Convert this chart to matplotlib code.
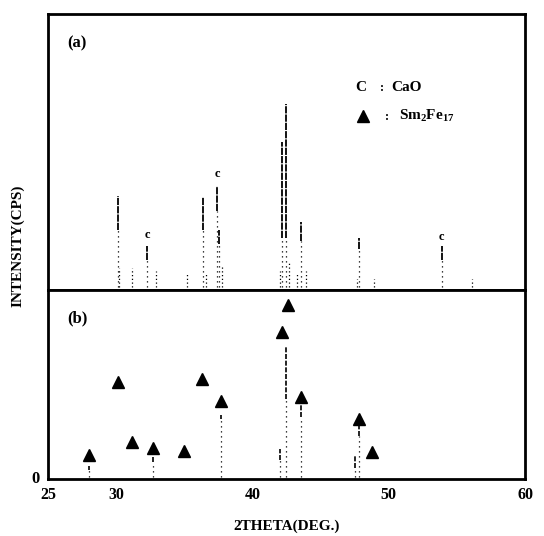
import matplotlib
matplotlib.use("Agg")
import matplotlib.pyplot as plt

plt.rcParams["font.family"] = ["Liberation Serif", "DejaVu Serif"]
plt.rcParams["font.weight"] = "bold"
plt.rcParams["mathtext.fontset"] = "custom"
plt.rcParams["mathtext.rm"] = "Liberation Serif:bold"
plt.rcParams["mathtext.default"] = "rm"

# (a) peaks: 2theta, top intensity, lower end of the solid part
a_pos = [30.1, 32.3, 36.4, 37.4, 37.55, 42.2, 42.5, 43.6, 47.8, 53.9]
a_top = [33.5, 15, 33, 37, 21, 53, 67, 24, 18, 15]
a_solid = [21, 10, 21, 28, 16, 18, 18, 17, 14, 10]
# (a) small specks above the baseline
a_minor_pos = [30.2, 31.2, 32.9, 35.2, 36.6, 37.8, 42.0, 42.7, 43.3, 43.9, 47.7, 48.9, 56.1]
a_minor_h = [7, 7, 6, 5, 5, 8, 6, 9, 5, 6, 3, 3, 3]
# CaO marks in (a)
cao_pos = [32.3, 37.4, 53.9]
cao_h = [19, 41.5, 18.5]

# (b) peaks
b_pos = [42.5, 42.0, 43.6, 47.8, 47.5, 37.7, 28.0, 32.7]
b_top = [70, 15, 39, 28, 12, 33, 6, 11]
b_solid = [42, 9, 32, 22, 5, 31, 4, 8]
# Sm2Fe17 triangles in (b)
tri_pos = [28.0, 30.1, 31.2, 32.7, 35.0, 36.3, 37.7, 42.2, 42.6, 43.6, 47.8, 48.8]
tri_h = [11.6, 50.8, 19, 15.3, 13.8, 52.4, 40.7, 77.8, 92, 42.9, 31.2, 13.2]

xticks = [25, 30, 40, 50, 60]

W, H = 544, 536
fig = plt.figure(figsize=(W / 100, H / 100), dpi=100)
ax1 = fig.add_axes([48 / W, 1 - 290 / H, 477 / W, 276 / H])
ax2 = fig.add_axes([48 / W, 1 - 479 / H, 477 / W, 189 / H])

for ax in (ax1, ax2):
    ax.set_xlim(25, 60)
    ax.set_ylim(-1, 100)
    for sp in ax.spines.values():
        sp.set_linewidth(2.0)
    ax.tick_params(length=0)

# panel (a)
ax1.vlines(a_pos, 0, a_solid, colors="k", lw=0.9, linestyles=(0, (1, 3)))
ax1.vlines(a_pos, a_solid, a_top, colors="k", lw=1.3, linestyles=(0, (4, 0.6)))
ax1.vlines(a_minor_pos, 0, a_minor_h, colors="k", lw=0.9, linestyles=(0, (1, 2)))
for x, h in zip(cao_pos, cao_h):
    ax1.text(x, h, "c", ha="center", va="center", fontsize=9, fontweight="bold")
ax1.set_xticks([])
ax1.set_yticks([])
ax1.text(0.04, 0.88, "(a)", transform=ax1.transAxes, fontsize=12, fontweight="bold")
ax1.text(0.645, 0.72, "C", transform=ax1.transAxes, fontsize=11, fontweight="bold")
ax1.text(0.695, 0.72, ":", transform=ax1.transAxes, fontsize=9, fontweight="bold")
ax1.text(0.72, 0.72, "CaO", transform=ax1.transAxes, fontsize=11, fontweight="bold")
ax1.plot([0.661], [0.63], marker="^", ms=9, color="k", transform=ax1.transAxes)
ax1.text(0.707, 0.615, ":", transform=ax1.transAxes, fontsize=9, fontweight="bold")
ax1.text(0.735, 0.615, "Sm$_2$Fe$_{17}$", transform=ax1.transAxes, fontsize=11)

# panel (b)
ax2.vlines(b_pos, 0, b_solid, colors="k", lw=0.9, linestyles=(0, (1, 3)))
ax2.vlines(b_pos, b_solid, b_top, colors="k", lw=1.2, linestyles=(0, (3, 1)))
ax2.plot(tri_pos, tri_h, linestyle="none", marker="^", ms=8, color="k")
ax2.text(0.04, 0.83, "(b)", transform=ax2.transAxes, fontsize=12, fontweight="bold")
ax2.set_yticks([0])
ax2.set_yticklabels(["0"], fontsize=12, fontweight="bold")
ax2.set_xticks(xticks)
ax2.set_xticklabels([str(t) for t in xticks], fontsize=11.5, fontweight="bold")
ax2.tick_params(axis="both", pad=6)
ax2.set_xlabel("2THETA(DEG.)", fontsize=11, fontweight="bold", labelpad=12)

fig.text(18 / W, 1 - 246 / H, "INTENSITY(CPS)", rotation=90, ha="center", va="center",
         fontsize=11, fontweight="bold")

fig.savefig("out.png", dpi=100)
